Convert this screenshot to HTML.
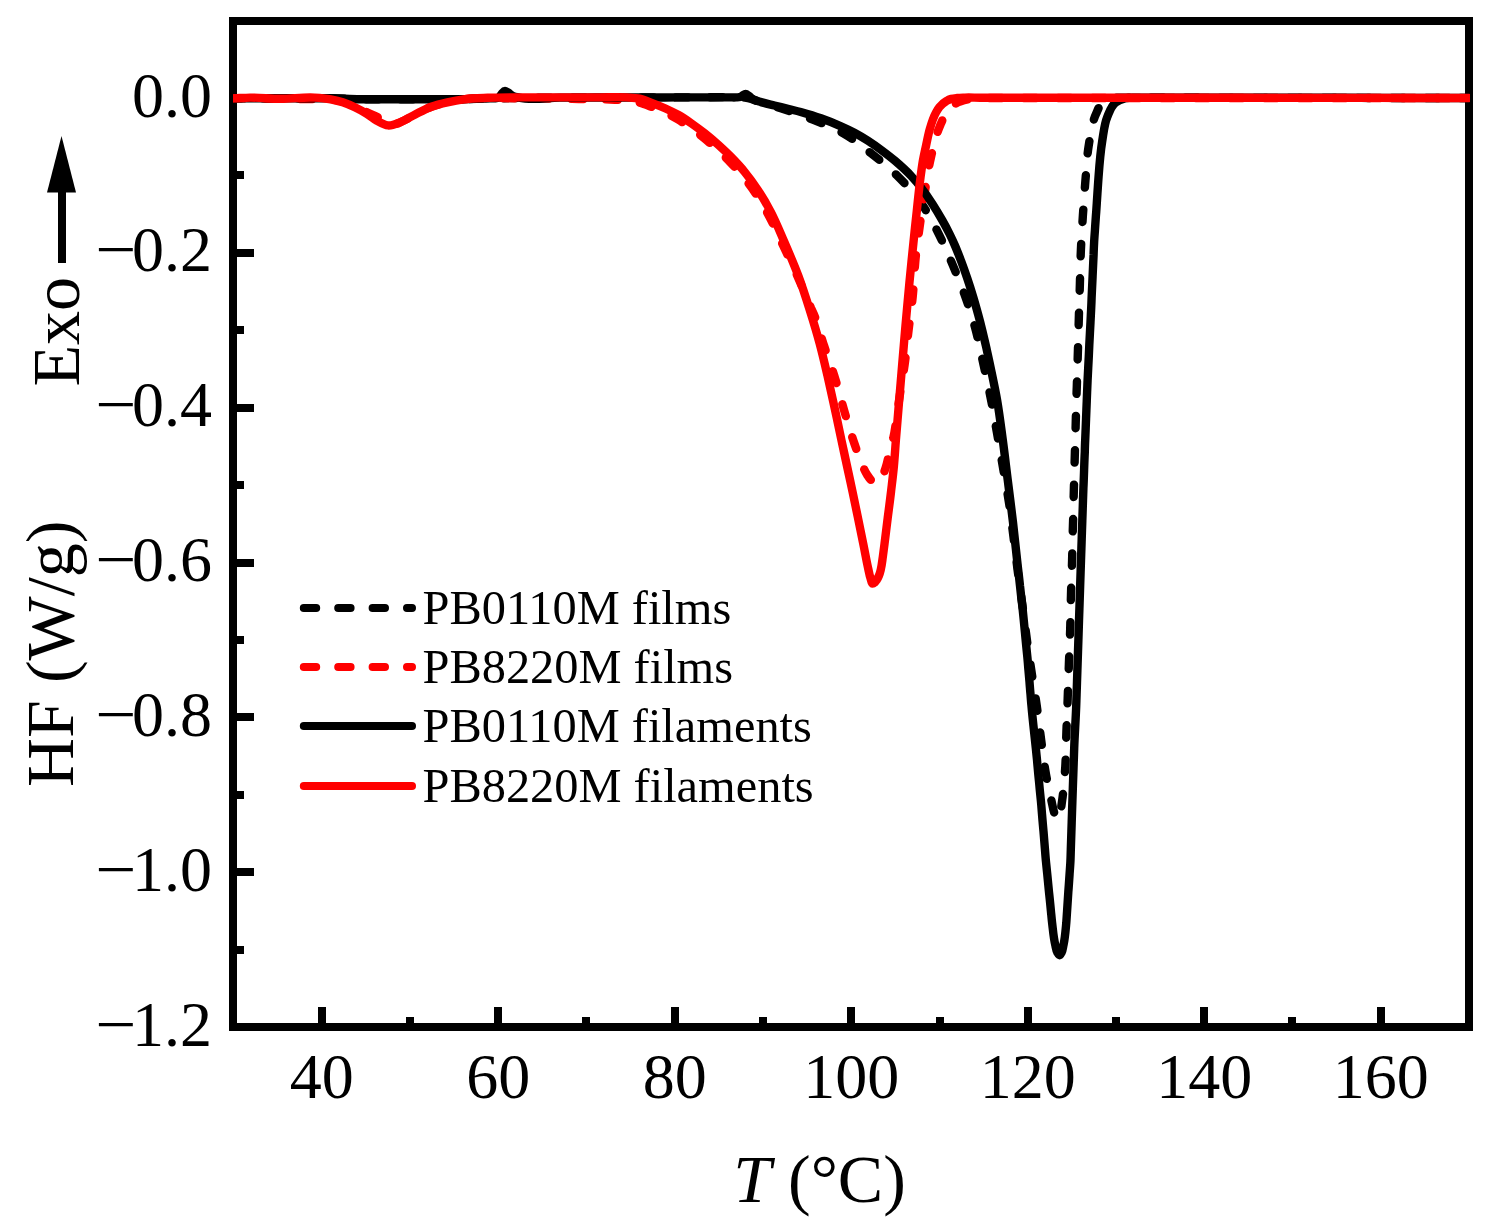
<!DOCTYPE html>
<html><head><meta charset="utf-8"><title>DSC heating curves</title>
<style>html,body{margin:0;padding:0;background:#fff}svg{display:block}text{font-family:"Liberation Serif","Times New Roman",serif;fill:#000}</style></head>
<body>
<svg width="1490" height="1231" viewBox="0 0 1490 1231">
<rect width="1490" height="1231" fill="#fff"/>
<g stroke="#000" stroke-width="8" fill="none" stroke-linecap="butt" shape-rendering="crispEdges">
<rect x="233" y="21" width="1236" height="1006"/>
<line x1="322.0" y1="1027" x2="322.0" y2="1007.0"/>
<line x1="410.0" y1="1027" x2="410.0" y2="1017.0"/>
<line x1="498.0" y1="1027" x2="498.0" y2="1007.0"/>
<line x1="586.0" y1="1027" x2="586.0" y2="1017.0"/>
<line x1="675.0" y1="1027" x2="675.0" y2="1007.0"/>
<line x1="763.0" y1="1027" x2="763.0" y2="1017.0"/>
<line x1="851.0" y1="1027" x2="851.0" y2="1007.0"/>
<line x1="940.0" y1="1027" x2="940.0" y2="1017.0"/>
<line x1="1028.0" y1="1027" x2="1028.0" y2="1007.0"/>
<line x1="1116.0" y1="1027" x2="1116.0" y2="1017.0"/>
<line x1="1204.0" y1="1027" x2="1204.0" y2="1007.0"/>
<line x1="1292.0" y1="1027" x2="1292.0" y2="1017.0"/>
<line x1="1381.0" y1="1027" x2="1381.0" y2="1007.0"/>
<line x1="233" y1="175.4" x2="244.0" y2="175.4"/>
<line x1="233" y1="252.8" x2="254.0" y2="252.8"/>
<line x1="233" y1="330.2" x2="244.0" y2="330.2"/>
<line x1="233" y1="407.7" x2="254.0" y2="407.7"/>
<line x1="233" y1="485.1" x2="244.0" y2="485.1"/>
<line x1="233" y1="562.5" x2="254.0" y2="562.5"/>
<line x1="233" y1="639.9" x2="244.0" y2="639.9"/>
<line x1="233" y1="717.3" x2="254.0" y2="717.3"/>
<line x1="233" y1="794.7" x2="244.0" y2="794.7"/>
<line x1="233" y1="872.2" x2="254.0" y2="872.2"/>
<line x1="233" y1="949.6" x2="244.0" y2="949.6"/>
<line x1="233" y1="1027.0" x2="254.0" y2="1027.0"/>
</g>
<g font-size="64" text-anchor="middle">
<text x="321.8" y="1098">40</text>
<text x="498.2" y="1098">60</text>
<text x="674.8" y="1098">80</text>
<text x="851.2" y="1098">100</text>
<text x="1027.8" y="1098">120</text>
<text x="1204.2" y="1098">140</text>
<text x="1380.8" y="1098">160</text>
</g>
<g font-size="64" text-anchor="end">
<text x="212" y="116.5">0.0</text>
<text x="212" y="271.3">0.2</text>
<text transform="translate(136.5 271.3) scale(1.14 1)">−</text>
<text x="212" y="426.2">0.4</text>
<text transform="translate(136.5 426.2) scale(1.14 1)">−</text>
<text x="212" y="581.0">0.6</text>
<text transform="translate(136.5 581.0) scale(1.14 1)">−</text>
<text x="212" y="735.8">0.8</text>
<text transform="translate(136.5 735.8) scale(1.14 1)">−</text>
<text x="212" y="890.7">1.0</text>
<text transform="translate(136.5 890.7) scale(1.14 1)">−</text>
<text x="212" y="1045.5">1.2</text>
<text transform="translate(136.5 1045.5) scale(1.14 1)">−</text>
</g>
<text font-size="68" x="733.2" y="1202"><tspan font-style="italic">T</tspan> (°C)</text>
<text font-size="68" transform="translate(72.5 787) rotate(-90)">HF (W/g)</text>
<text font-size="68" transform="translate(79.3 386.5) rotate(-90)">Exo</text>
<path d="M62 263V190" stroke="#000" stroke-width="8" fill="none"/><path d="M47 192.5L61.5 136L76 192.5Z" fill="#000"/>
<clipPath id="c"><rect x="233" y="21" width="1237" height="1006"/></clipPath>
<g clip-path="url(#c)" fill="none" stroke-width="8.4" stroke-linecap="round" stroke-linejoin="round">
<path stroke="#000" stroke-dasharray="12.4 22" stroke-dashoffset="4.9" d="M233.5 98.3C237.5 98.3 241.5 98.3 245.5 98.3C252.2 98.3 258.9 98.3 265.7 98.3C276.4 98.3 287.1 98.3 297.8 98.3C304.6 98.3 311.3 98.3 318.0 98.3C322.0 98.3 326.0 98.3 330.0 98.3C340.0 98.4 350.0 99.1 360.0 99.2C364.0 99.2 368.0 99.2 372.0 99.2C379.1 99.2 386.2 99.2 393.3 99.2C404.4 99.2 415.6 99.2 426.7 99.2C433.8 99.2 440.9 99.2 448.0 99.2C452.0 99.2 456.0 99.2 460.0 99.2C470.0 99.1 480.0 98.5 490.0 98.3C494.0 98.2 498.0 98.2 502.0 98.2C509.7 98.1 517.3 98.0 525.0 97.9C532.7 97.9 540.3 97.8 548.0 97.7C552.0 97.7 556.0 97.6 560.0 97.6C564.0 97.6 568.0 97.6 572.0 97.6C579.7 97.6 587.3 97.6 595.0 97.5C606.7 97.5 618.3 97.5 630.0 97.5C641.7 97.5 653.3 97.5 665.0 97.5C672.7 97.4 680.3 97.4 688.0 97.4C692.0 97.4 696.0 97.4 700.0 97.4C712.7 97.4 725.4 96.8 738.0 97.4C741.3 97.6 744.7 97.4 748.0 98.0C752.1 98.7 756.0 100.7 760.0 102.0C766.6 104.1 773.4 105.9 780.0 108.0C791.0 111.5 802.1 115.3 812.8 119.6C823.8 124.0 835.0 128.4 845.1 134.4C854.4 139.9 862.8 146.8 871.3 153.5C880.0 160.3 888.6 167.3 896.5 175.0C906.4 184.8 915.9 195.4 923.7 206.9C929.5 215.5 934.1 224.8 938.8 234.1C943.9 244.3 948.4 254.9 952.9 265.4C957.5 276.4 962.1 287.4 966.0 298.6C969.6 308.9 972.9 319.4 975.7 330.0C978.8 341.6 981.1 353.5 983.7 365.3C986.1 376.4 988.6 387.5 990.8 398.6C993.0 409.6 994.8 420.7 996.8 431.8C998.9 443.6 1000.9 455.3 1002.9 467.1C1004.9 478.7 1007.1 490.3 1008.9 502.0C1010.7 513.6 1012.0 525.3 1013.5 537.0C1014.9 548.0 1016.2 559.0 1017.6 570.0C1019.2 582.7 1021.1 595.3 1022.8 608.0C1024.4 620.3 1025.9 632.7 1027.6 645.0C1028.9 654.6 1030.4 664.1 1031.8 673.7C1033.4 684.5 1035.3 695.3 1036.8 706.2C1038.4 717.5 1039.7 728.9 1041.2 740.3C1042.7 751.7 1044.0 763.2 1046.0 774.5C1047.5 783.0 1049.4 791.5 1051.3 800.0C1052.2 804.0 1052.8 808.1 1054.0 812.0C1054.5 813.8 1054.8 815.8 1055.8 817.5C1056.2 818.2 1056.8 819.6 1057.3 819.6C1057.8 819.6 1058.4 818.2 1058.8 817.5C1059.7 815.9 1059.9 813.8 1060.3 812.0C1061.2 808.1 1061.6 804.0 1062.2 800.0C1063.8 788.9 1064.6 777.6 1065.3 766.4C1066.0 755.0 1066.0 743.6 1066.4 732.2C1066.8 720.8 1067.3 709.5 1067.7 698.1C1068.1 686.7 1068.5 675.4 1068.9 664.0C1069.3 652.3 1069.8 640.7 1070.2 629.0C1070.5 617.4 1070.7 605.7 1071.0 594.1C1071.3 582.7 1071.8 571.4 1072.1 560.0C1072.2 556.0 1072.3 552.0 1072.4 548.0C1072.5 542.0 1072.7 536.0 1072.8 530.0C1073.0 524.0 1073.2 518.0 1073.3 512.0C1073.4 508.0 1073.5 504.0 1073.6 500.0C1073.7 496.0 1073.8 492.0 1073.9 488.0C1074.1 482.0 1074.2 476.0 1074.4 470.0C1074.6 464.0 1074.7 458.0 1074.9 452.0C1075.0 448.0 1075.1 444.0 1075.2 440.0C1075.3 436.0 1075.4 432.0 1075.6 428.0C1075.7 422.0 1075.9 416.0 1076.1 410.0C1076.3 404.0 1076.5 398.0 1076.6 392.0C1076.8 388.0 1076.9 384.0 1077.0 380.0C1077.1 376.0 1077.2 372.0 1077.4 368.0C1077.6 361.3 1077.8 354.5 1078.0 347.8C1078.3 337.1 1078.6 326.3 1078.9 315.6C1079.1 308.9 1079.3 302.1 1079.5 295.4C1079.7 291.4 1079.8 287.4 1079.9 283.4C1080.2 272.2 1080.4 261.0 1080.9 249.8C1081.4 238.3 1082.2 226.8 1082.9 215.3C1083.7 203.8 1084.5 192.3 1085.4 180.8C1086.4 169.3 1086.8 157.7 1088.6 146.3C1090.4 135.4 1091.5 123.8 1096.1 113.8C1097.8 110.1 1099.1 105.7 1102.0 103.0C1104.2 101.0 1107.2 99.6 1110.0 98.6C1114.6 97.0 1120.0 97.9 1125.0 97.8C1129.0 97.7 1133.0 97.8 1137.0 97.8C1147.3 97.8 1157.7 97.8 1168.0 97.8C1182.3 97.8 1196.7 97.8 1211.0 97.8C1225.3 97.9 1239.7 97.9 1254.0 97.9C1268.3 97.9 1282.7 97.9 1297.0 97.9C1311.3 97.9 1325.7 97.9 1340.0 97.9C1354.3 97.9 1368.7 97.9 1383.0 98.0C1397.3 98.0 1411.7 98.0 1426.0 98.0C1436.3 98.0 1446.7 98.0 1457.0 98.0C1461.0 98.0 1465.0 98.0 1469.0 98.0"/>
<path stroke="#f00" stroke-dasharray="12.4 22" stroke-dashoffset="2.2" d="M233.5 98.3C237.5 98.3 241.5 98.4 245.5 98.4C252.3 98.5 259.1 98.6 265.9 98.6C276.7 98.7 287.5 98.9 298.3 99.0C305.1 99.0 311.9 99.1 318.7 99.2C322.7 99.2 326.7 98.9 330.7 99.3C335.2 99.7 339.7 100.7 344.0 102.0C348.1 103.2 352.1 105.0 356.0 106.8C360.1 108.6 364.0 110.8 368.0 112.8C372.0 114.7 376.3 116.1 380.0 118.5C381.9 119.7 383.6 121.2 385.5 122.5C387.0 123.5 388.4 124.9 390.0 125.4C393.4 126.5 397.5 123.3 401.1 121.8C406.0 119.8 410.5 116.8 415.2 114.4C420.5 111.7 425.7 108.8 431.3 106.7C436.5 104.8 442.0 103.5 447.4 102.3C452.7 101.1 458.1 100.0 463.5 99.3C471.5 98.2 479.6 98.4 487.7 98.0"/>
<path stroke="#f00" stroke-dasharray="12.4 22" stroke-dashoffset="19.7" d="M487.7 98.0C491.7 98.0 495.7 98.1 499.7 98.1C507.7 98.2 515.8 98.2 523.9 98.3C531.9 98.4 540.0 98.4 548.0 98.5C552.0 98.5 556.0 98.5 560.0 98.6C564.0 98.7 568.0 98.7 572.0 98.8C576.3 98.9 580.7 99.0 585.0 99.0C589.3 99.1 593.7 99.2 598.0 99.3C602.0 99.4 606.0 99.4 610.0 99.5C615.3 99.7 620.7 99.9 626.0 100.5C630.4 101.0 634.8 101.5 639.0 102.5C643.4 103.6 647.7 105.4 652.0 107.0C656.4 108.7 660.8 110.5 665.0 112.5C669.4 114.6 673.8 117.0 678.0 119.5C682.4 122.1 686.8 125.0 691.0 128.0C695.5 131.2 699.8 134.5 704.0 138.0C708.5 141.7 712.7 145.6 717.0 149.5C721.4 153.6 725.8 157.7 730.0 162.0C734.5 166.7 738.9 171.5 743.0 176.5C747.6 182.1 752.0 188.0 756.0 194.0C760.7 201.1 765.0 208.5 769.0 216.0C773.7 224.8 777.7 234.0 782.0 243.0C787.2 254.1 792.5 265.1 797.5 276.3C802.2 286.8 806.3 297.5 811.0 308.0C811.9 309.9 812.8 311.8 813.6 313.7C818.1 324.1 820.6 335.4 824.2 346.2C827.8 357.1 831.8 367.8 835.2 378.7C838.5 389.3 841.1 400.1 844.2 410.7C847.4 421.5 850.5 432.4 854.2 443.0C856.3 449.0 858.3 455.1 860.8 461.0C862.7 465.5 864.2 470.3 866.9 474.4C868.4 476.7 869.9 479.3 872.0 481.0C873.3 482.0 874.9 483.7 876.3 483.6C877.6 483.5 879.0 482.1 880.0 481.0C881.5 479.4 882.1 477.0 883.0 475.0C884.1 472.5 885.0 469.9 885.8 467.3C887.3 462.6 888.1 457.8 889.3 453.0C890.6 448.0 892.2 443.0 893.3 438.0C895.4 428.8 896.2 419.3 897.6 410.0C898.5 404.0 899.4 398.0 900.3 392.0C901.7 383.0 903.3 374.0 904.6 364.9C906.2 353.3 907.2 341.6 908.6 330.0C909.9 318.9 911.6 307.8 912.7 296.7C914.1 282.9 914.4 269.0 915.9 255.2C916.9 245.8 918.3 236.5 919.6 227.1C921.2 215.7 922.9 204.2 924.7 192.8C926.6 181.4 928.1 169.9 930.7 158.6C933.2 147.7 935.4 136.5 939.8 126.3C941.9 121.4 943.8 116.2 947.0 112.0C949.5 108.8 952.5 105.6 955.9 103.5C960.0 101.0 965.2 100.0 970.0 99.0C976.5 97.7 983.3 98.1 990.0 98.0C994.0 97.9 998.0 98.0 1002.0 98.0C1012.5 98.0 1023.0 98.0 1033.5 98.0C1048.1 98.0 1062.6 98.0 1077.1 98.0C1091.6 98.0 1106.1 98.0 1120.6 98.0C1135.2 98.0 1149.7 98.0 1164.2 98.0C1178.7 98.0 1193.2 98.0 1207.7 98.0C1222.2 98.0 1236.8 98.0 1251.3 98.0C1265.8 98.0 1280.3 98.0 1294.8 98.0C1309.3 98.0 1323.8 98.0 1338.4 98.0C1352.9 98.0 1367.4 98.0 1381.9 98.0C1396.4 98.0 1410.9 98.0 1425.5 98.0C1436.0 98.0 1446.5 98.0 1457.0 98.0C1461.0 98.0 1465.0 98.0 1469.0 98.0"/>
<path stroke="#000" d="M233.5 98.3C237.5 98.3 241.5 98.3 245.5 98.3C252.2 98.3 258.9 98.3 265.7 98.3C276.4 98.3 287.1 98.3 297.8 98.3C304.6 98.3 311.3 98.3 318.0 98.3C322.0 98.3 326.0 98.3 330.0 98.3C340.0 98.4 350.0 99.1 360.0 99.2C364.0 99.2 368.0 99.2 372.0 99.2C379.1 99.2 386.2 99.2 393.3 99.2C404.4 99.2 415.6 99.2 426.7 99.2C433.8 99.2 440.9 99.2 448.0 99.2C452.0 99.2 456.0 99.2 460.0 99.2C470.0 99.1 480.0 98.6 490.0 98.3C491.3 98.3 492.7 98.3 494.0 98.2C495.5 98.1 497.3 98.4 498.5 97.8C499.8 97.1 500.4 95.2 501.5 94.0C502.6 92.9 503.7 91.0 505.0 91.0C505.9 91.0 507.0 91.9 508.0 92.5C509.8 93.5 511.2 95.2 513.0 96.0C514.8 96.9 517.0 97.1 519.0 97.6C532.3 100.7 546.3 97.6 560.0 97.6C564.0 97.6 568.0 97.6 572.0 97.6C579.7 97.6 587.3 97.6 595.0 97.5C606.7 97.5 618.3 97.5 630.0 97.5C641.7 97.5 653.3 97.5 665.0 97.5C672.7 97.4 680.3 97.4 688.0 97.4C692.0 97.4 696.0 97.4 700.0 97.4C710.0 97.4 720.0 97.4 730.0 97.4C732.0 97.4 734.0 97.5 736.0 97.4C737.3 97.3 738.8 97.5 740.0 97.1C740.9 96.8 741.7 96.1 742.5 95.6C743.5 95.0 744.6 94.0 745.6 94.0C746.8 94.0 747.9 95.3 749.0 96.0C750.4 97.0 751.6 98.4 753.0 99.3C755.4 100.8 758.3 101.3 761.0 102.1C765.4 103.5 770.0 104.4 774.5 105.5C779.0 106.6 783.4 107.7 787.9 108.8C792.2 109.9 796.5 110.8 800.7 112.0C807.5 113.9 814.3 115.9 820.9 118.3C827.7 120.7 834.4 123.4 841.0 126.3C845.5 128.3 850.0 130.4 854.4 132.7C859.1 135.2 863.6 137.9 868.0 140.8C872.8 143.9 877.4 147.2 882.0 150.6C886.4 153.9 890.8 157.2 895.0 160.8C900.6 165.6 906.2 170.6 911.2 176.0C914.6 179.7 917.9 183.5 921.0 187.5C925.2 192.9 929.1 198.6 932.8 204.4C936.2 209.7 939.4 215.1 942.5 220.6C945.0 225.0 947.4 229.5 949.6 234.0C951.4 237.6 953.1 241.3 954.7 245.0C957.0 250.3 959.1 255.8 961.2 261.2C963.3 266.8 965.3 272.4 967.2 278.1C969.2 284.0 971.1 290.0 972.9 296.0C974.8 302.2 976.5 308.4 978.2 314.7C979.7 320.1 981.1 325.6 982.4 331.0C983.7 336.4 985.0 341.8 986.2 347.2C987.7 354.0 989.2 360.7 990.6 367.5C992.9 378.5 995.3 389.5 997.2 400.6C999.5 414.0 1001.1 427.5 1002.9 440.9C1004.7 454.3 1006.2 467.8 1007.9 481.2C1009.6 494.6 1011.3 508.1 1012.9 521.5C1014.5 535.3 1015.8 549.2 1017.4 563.0C1017.8 567.0 1018.3 570.9 1018.8 574.9C1019.2 578.6 1019.6 582.2 1020.0 585.9C1020.4 589.5 1020.8 593.1 1021.2 596.8C1021.7 600.8 1022.2 604.7 1022.6 608.7C1023.0 612.7 1023.4 616.7 1023.8 620.6C1024.2 624.8 1024.6 628.9 1025.0 633.1C1025.4 637.3 1025.8 641.4 1026.2 645.6C1026.6 649.5 1027.0 653.5 1027.4 657.5C1027.8 661.5 1028.1 665.5 1028.4 669.5C1028.8 673.6 1029.1 677.7 1029.5 681.9C1029.8 686.0 1030.1 690.1 1030.5 694.2C1030.8 698.2 1031.1 702.2 1031.5 706.2C1032.7 720.2 1034.4 734.1 1035.8 748.0C1036.2 752.0 1036.6 756.0 1037.0 759.9C1037.4 764.8 1037.9 769.6 1038.3 774.5C1038.8 779.3 1039.3 784.1 1039.7 789.0C1040.1 792.9 1040.5 796.9 1040.9 800.9C1041.3 804.9 1041.6 808.9 1041.9 812.9C1042.4 819.0 1042.9 825.2 1043.5 831.3C1044.0 837.5 1044.5 843.7 1045.0 849.8C1045.3 853.8 1045.6 857.8 1046.0 861.8C1046.4 865.8 1046.8 869.8 1047.2 873.7C1047.8 879.9 1048.4 886.1 1049.0 892.2C1049.7 898.4 1050.3 904.6 1050.9 910.8C1051.3 914.7 1051.6 918.7 1052.1 922.7C1053.0 930.2 1053.5 937.7 1055.3 945.0C1055.9 947.5 1056.1 950.3 1057.4 952.5C1058.0 953.5 1058.9 955.2 1059.6 955.2C1060.3 955.2 1061.1 953.5 1061.6 952.5C1062.9 950.3 1062.9 947.5 1063.5 945.0C1065.1 937.7 1065.6 930.2 1066.3 922.7C1066.6 918.7 1066.8 914.7 1067.1 910.7C1067.5 904.6 1067.9 898.4 1068.3 892.2C1068.8 886.1 1069.2 879.9 1069.6 873.8C1069.9 869.8 1070.2 865.8 1070.4 861.8C1070.6 857.8 1070.7 853.8 1070.8 849.8C1071.0 843.7 1071.2 837.5 1071.4 831.3C1071.6 825.2 1071.8 819.0 1072.0 812.9C1072.1 808.9 1072.3 804.9 1072.4 800.9C1072.5 796.9 1072.7 792.9 1072.8 788.9C1073.0 784.1 1073.1 779.3 1073.3 774.5C1073.5 769.6 1073.6 764.8 1073.8 760.0C1073.9 756.0 1074.1 752.0 1074.2 748.0C1074.7 734.1 1075.7 720.1 1076.2 706.2C1076.3 702.2 1076.5 698.2 1076.6 694.2C1076.7 690.1 1076.9 686.0 1077.0 681.9C1077.1 677.7 1077.3 673.6 1077.4 669.5C1077.5 665.5 1077.7 661.5 1077.8 657.5C1077.9 653.5 1078.1 649.5 1078.2 645.5C1078.3 641.4 1078.5 637.2 1078.6 633.1C1078.7 629.0 1078.9 624.8 1079.0 620.7C1079.1 616.7 1079.3 612.7 1079.4 608.7C1079.5 604.7 1079.7 600.7 1079.8 596.7C1079.9 592.6 1080.1 588.5 1080.2 584.4C1080.3 580.2 1080.5 576.1 1080.6 572.0C1080.7 568.0 1080.9 564.0 1081.0 560.0C1081.1 556.0 1081.3 552.0 1081.4 548.0C1081.6 542.0 1081.8 536.0 1082.0 530.0C1082.2 524.0 1082.4 518.0 1082.6 512.0C1082.7 508.0 1082.9 504.0 1083.0 500.0C1083.1 496.0 1083.3 492.0 1083.4 488.0C1083.7 482.0 1083.9 476.0 1084.1 470.0C1084.3 464.0 1084.5 458.0 1084.8 452.0C1084.9 448.0 1085.0 444.0 1085.2 440.0C1085.4 436.0 1085.5 432.0 1085.7 428.0C1085.9 422.0 1086.2 416.0 1086.4 410.0C1086.6 404.0 1086.9 398.0 1087.1 392.0C1087.3 388.0 1087.4 384.0 1087.6 380.0C1087.8 376.0 1088.0 372.0 1088.2 368.0C1088.6 360.3 1089.0 352.7 1089.3 345.0C1089.7 337.3 1090.1 329.7 1090.5 322.0C1090.7 318.0 1090.9 314.0 1091.1 310.0C1091.3 306.0 1091.5 302.0 1091.6 298.0C1092.0 290.8 1092.3 283.6 1092.6 276.4C1092.9 269.1 1093.2 261.9 1093.6 254.7C1093.7 250.7 1093.9 246.7 1094.1 242.7C1094.3 238.7 1094.6 234.7 1094.9 230.7C1095.3 224.6 1095.7 218.4 1096.2 212.2C1096.6 206.1 1097.0 199.9 1097.4 193.8C1097.7 189.8 1097.9 185.8 1098.2 181.8C1099.2 168.2 1100.0 154.6 1102.2 141.2C1103.6 133.0 1104.2 124.5 1107.3 116.9C1109.4 111.9 1111.3 105.8 1115.4 102.6C1118.2 100.4 1122.1 99.1 1125.6 98.2C1130.2 97.1 1135.2 97.9 1140.0 97.8C1144.0 97.7 1148.0 97.8 1152.0 97.8C1161.3 97.8 1170.7 97.8 1180.0 97.8C1193.3 97.8 1206.7 97.8 1220.0 97.8C1233.3 97.8 1246.7 97.8 1260.0 97.8C1269.3 97.8 1278.7 97.8 1288.0 97.8C1292.0 97.8 1296.0 97.8 1300.0 97.8C1304.0 97.8 1308.0 97.8 1312.0 97.8C1322.1 97.8 1332.2 97.8 1342.2 97.8C1356.3 97.9 1370.4 97.9 1384.5 97.9C1398.6 97.9 1412.7 97.9 1426.8 98.0C1436.8 98.0 1446.9 98.0 1457.0 98.0C1461.0 98.0 1465.0 98.0 1469.0 98.0"/>
<path stroke="#f00" d="M233.5 98.3C239.0 98.1 244.6 97.7 250.1 97.6C260.2 97.5 270.2 98.8 280.3 98.8C291.7 98.9 303.2 96.9 314.6 97.6C320.0 97.9 325.4 98.3 330.7 99.3C334.7 100.1 338.8 101.0 342.7 102.3C346.8 103.7 350.9 105.4 354.8 107.3C358.9 109.3 363.0 111.4 366.9 113.8C370.4 115.9 373.4 118.8 377.0 120.8C380.5 122.7 384.3 125.1 388.0 125.4C392.3 125.8 396.9 123.4 401.1 121.8C406.0 119.9 410.5 116.8 415.2 114.4C420.5 111.7 425.7 108.8 431.3 106.7C436.5 104.8 442.0 103.5 447.4 102.3C452.7 101.1 458.1 100.0 463.5 99.3C471.5 98.2 479.6 98.1 487.7 97.8C501.8 97.2 515.9 97.4 530.0 97.4C534.0 97.4 538.0 97.4 542.0 97.4C549.7 97.4 557.3 97.4 565.0 97.4C572.7 97.4 580.3 97.4 588.0 97.4C592.0 97.4 596.0 97.4 600.0 97.4C608.9 97.4 617.9 96.8 626.8 97.4C631.0 97.7 635.4 97.8 639.5 98.7C643.9 99.7 648.0 101.6 652.2 103.2C656.7 104.9 661.1 106.6 665.5 108.5C669.9 110.5 674.3 112.6 678.5 115.0C683.1 117.6 687.4 120.6 691.7 123.6C696.2 126.7 700.5 130.0 704.8 133.4C709.3 137.0 713.8 140.8 718.1 144.7C722.6 148.8 727.1 152.9 731.4 157.3C736.0 162.0 740.5 166.8 744.6 171.8C749.3 177.5 753.6 183.5 757.7 189.7C762.5 196.9 766.9 204.4 770.9 212.1C775.8 221.4 779.7 231.3 783.9 241.0C789.0 252.7 794.1 264.4 798.5 276.3C802.7 287.6 806.3 299.0 809.9 310.5C813.3 321.3 816.6 332.1 819.5 343.0C822.4 353.7 824.9 364.6 827.4 375.4C829.3 383.8 831.2 392.2 833.0 400.6C835.9 413.7 838.6 426.9 841.4 440.0C843.3 448.7 845.1 457.3 847.0 466.0C848.9 474.7 850.8 483.3 852.6 492.0C854.4 500.7 856.2 509.3 858.0 518.0C859.8 526.7 861.5 535.3 863.3 544.0C865.0 552.3 866.4 560.7 868.3 569.0C869.0 572.2 869.5 575.4 870.6 578.5C871.2 580.2 871.4 583.7 872.7 583.6C873.3 583.6 874.3 582.8 875.0 582.2C875.8 581.5 876.4 580.5 877.0 579.6C877.8 578.3 878.4 576.9 879.0 575.5C879.8 573.6 880.3 571.5 880.8 569.5C881.8 565.4 882.2 561.2 882.8 557.0C883.4 552.7 883.9 548.3 884.5 544.0C885.6 535.3 886.6 526.7 887.7 518.0C888.8 509.3 890.0 500.7 891.0 492.0C892.0 483.3 893.1 474.7 893.9 466.0C894.7 457.3 895.2 448.7 895.9 440.0C897.0 426.7 898.1 413.3 899.2 400.0C900.2 388.6 901.1 377.1 902.1 365.7C903.2 352.7 904.3 339.7 905.4 326.7C906.7 312.1 908.0 297.6 909.4 283.0C910.7 269.7 912.0 256.3 913.4 243.0C914.5 232.3 915.6 221.7 916.8 211.0C918.0 199.8 919.0 188.6 920.5 177.5C921.2 172.1 921.9 166.6 922.8 161.2C923.8 155.8 925.0 150.4 926.2 145.0C927.4 139.6 928.3 134.0 929.9 128.7C931.5 123.2 933.2 117.5 936.0 112.5C937.0 110.7 938.1 108.8 939.4 107.2C941.4 104.8 943.8 102.5 946.5 101.0C948.0 100.1 949.6 99.4 951.3 98.9C953.2 98.3 955.3 98.2 957.3 98.0C959.9 97.7 962.4 97.7 965.0 97.6C970.0 97.4 975.0 97.7 980.0 97.7C986.7 97.7 993.3 97.8 1000.0 97.8C1004.0 97.8 1008.0 97.8 1012.0 97.8C1021.3 97.8 1030.7 97.8 1040.0 97.8C1053.3 97.8 1066.7 97.8 1080.0 97.8C1093.3 97.8 1106.7 97.8 1120.0 97.8C1133.3 97.8 1146.7 97.8 1160.0 97.8C1169.3 97.8 1178.7 97.8 1188.0 97.8C1192.0 97.8 1196.0 97.8 1200.0 97.8C1204.0 97.8 1208.0 97.8 1212.0 97.8C1222.9 97.8 1233.9 97.8 1244.8 97.8C1259.8 97.8 1274.7 97.9 1289.7 97.9C1304.6 97.9 1319.6 97.9 1334.5 97.9C1349.4 97.9 1364.4 97.9 1379.3 97.9C1394.3 97.9 1409.2 98.0 1424.2 98.0C1435.1 98.0 1446.1 98.0 1457.0 98.0C1461.0 98.0 1465.0 98.0 1469.0 98.0"/>
</g>
<g fill="none" stroke-width="8" stroke-linecap="round">
<path stroke="#000" stroke-dasharray="12.4 22" d="M303.8 608.0H412"/>
<path stroke="#f00" stroke-dasharray="12.4 22" d="M303.8 667.0H412"/>
<path stroke="#000" d="M303.8 726.0H412"/>
<path stroke="#f00" d="M303.8 786.0H412"/>
</g>
<g font-size="48.4">
<text x="422.5" y="623.5">PB0110M films</text>
<text x="422.5" y="682.5">PB8220M films</text>
<text x="422.5" y="741.5">PB0110M filaments</text>
<text x="422.5" y="801.5">PB8220M filaments</text>
</g>
</svg>
</body></html>
